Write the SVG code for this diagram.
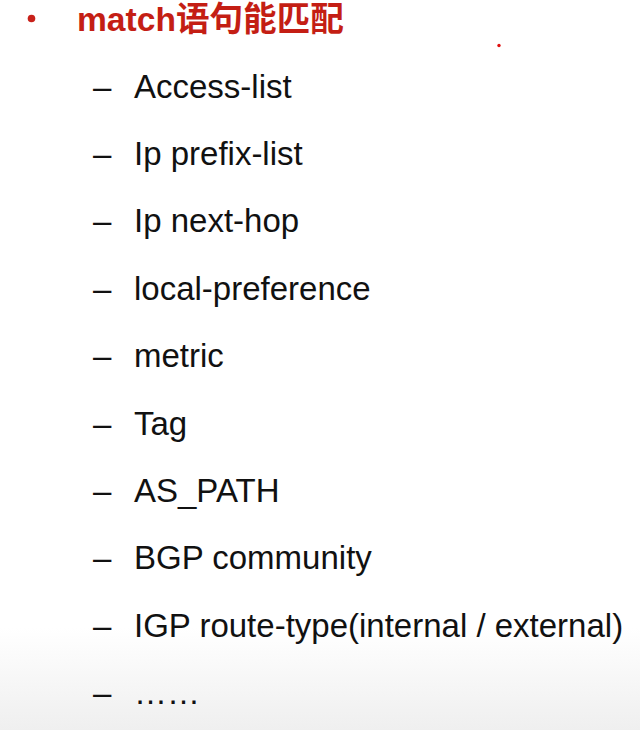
<svg xmlns="http://www.w3.org/2000/svg" width="640" height="730" viewBox="0 0 640 730">
<defs>
<linearGradient id="bg" x1="0" y1="0" x2="0" y2="1">
<stop offset="0" stop-color="#ffffff"/>
<stop offset="0.86" stop-color="#ffffff"/>
<stop offset="1" stop-color="#efefef"/>
</linearGradient>
</defs>
<style>
.title{font-family:"Liberation Sans","Noto Sans CJK SC",sans-serif;font-size:33.6px;font-weight:bold;fill:#c41e14}
.item{font-family:"Liberation Sans",Arial,sans-serif;font-size:33px;fill:#111111}
</style>
<rect x="0" y="0" width="640" height="730" fill="url(#bg)"/>
<g id="title">
<circle cx="31.5" cy="18.5" r="3.8" fill="#c8211a"/>
<text class="title" x="77" y="30.5">match语句能匹配</text>
</g>
<circle cx="499" cy="45.5" r="1.7" fill="#e01010"/>
<g id="items">
<text class="item" x="93" y="97.5">–</text><text class="item" x="134" y="97.5">Access-list</text>
<text class="item" x="93" y="164.9">–</text><text class="item" x="134" y="164.9">Ip prefix-list</text>
<text class="item" x="93" y="232.3">–</text><text class="item" x="134" y="232.3">Ip next-hop</text>
<text class="item" x="93" y="299.7">–</text><text class="item" x="134" y="299.7">local-preference</text>
<text class="item" x="93" y="367.1">–</text><text class="item" x="134" y="367.1">metric</text>
<text class="item" x="93" y="434.5">–</text><text class="item" x="134" y="434.5">Tag</text>
<text class="item" x="93" y="501.9">–</text><text class="item" x="134" y="501.9">AS_PATH</text>
<text class="item" x="93" y="569.3">–</text><text class="item" x="134" y="569.3">BGP community</text>
<text class="item" x="93" y="636.7">–</text><text class="item" x="134" y="636.7">IGP route-type(internal / external)</text>
<text class="item" x="93" y="704.1">–</text><text class="item" x="134" y="704.1">……</text>
</g>
</svg>
